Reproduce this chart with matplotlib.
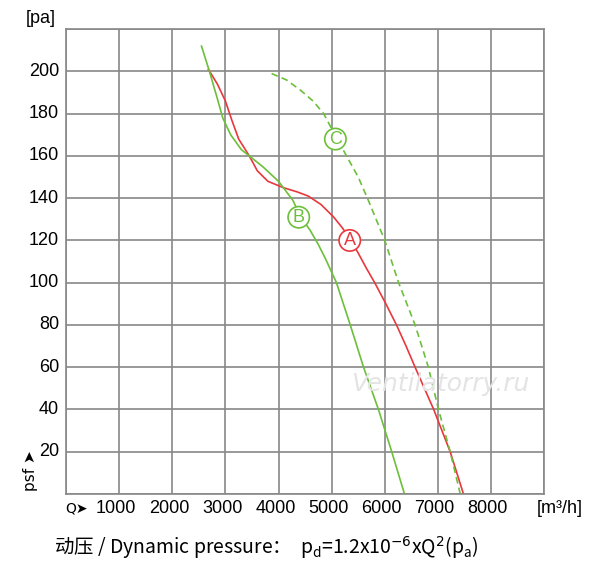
import matplotlib.pyplot as plt

plt.rcParams['font.family'] = ['Liberation Sans', 'Noto Sans CJK SC', 'DejaVu Sans']

# curve A (red)
a_q = [2680, 2850, 3000, 3120, 3250, 3450, 3600, 3800, 4090, 4350, 4560, 4800, 5040, 5200, 5340,
       5500, 5650, 5810, 6020, 6220, 6400, 6570, 6920, 7230, 7480]
a_p = [201, 194, 186, 177, 168, 160, 153, 148, 145, 143, 141, 137, 131, 126, 121,
       114, 107, 100, 90, 80, 70, 60, 40, 20, 0]
# curve B (green)
b_q = [2550, 2700, 2850, 2950, 3100, 3300, 3450, 3700, 4000, 4270, 4420, 4590, 4750, 4890, 5090,
       5350, 5600, 5880, 6130, 6370]
b_p = [212, 200, 187, 178, 170, 163, 160, 155, 148, 139, 131, 125, 118, 111, 100,
       80, 60, 40, 20, 0]
# curve C (green dashed)
c_q = [3870, 4150, 4420, 4650, 4850, 5060, 5280, 5500, 5690, 6000, 6260, 6570, 6820, 7010, 7230, 7420]
c_p = [199, 196, 191, 186, 180, 170, 160, 150, 139, 120, 100, 80, 60, 40, 20, 0]

x_ticks = [1000, 2000, 3000, 4000, 5000, 6000, 7000, 8000]
y_ticks = [20, 40, 60, 80, 100, 120, 140, 160, 180, 200]

red = '#e8383d'
green = '#6cbf3a'

fig = plt.figure(figsize=(6.0, 5.73), dpi=100)
ax = fig.add_axes([0.11, 0.138, 0.797, 0.811])
ax.set_xlim(0, 9000)
ax.set_ylim(0, 220)
ax.set_xticks(range(0, 9001, 1000))
ax.set_yticks(range(0, 221, 20))
ax.grid(True, color='#888888', lw=1.2)
ax.tick_params(length=0, labelbottom=False, labelleft=False)
for s in ax.spines.values():
    s.set_color('#888888')
    s.set_linewidth(1.2)

ax.plot(a_q, a_p, color=red, lw=1.2)
ax.plot(b_q, b_p, color=green, lw=1.2)
ax.plot(c_q, c_p, color=green, lw=1.2, ls=(0, (4, 2.5)))

for txt, q, p, col in [('A', 5340, 120, red), ('B', 4380, 131, green), ('C', 5070, 168, green)]:
    ax.text(q, p, txt, color=col, fontsize=13, ha='center', va='center',
            bbox=dict(boxstyle='circle,pad=0.12', fc='white', ec=col, lw=1.2))

for v in y_ticks:
    ax.text(-130, v, str(v), ha='right', va='center', fontsize=13)
for v in x_ticks:
    ax.text(v - 60, -7, str(v), ha='center', va='center', fontsize=13)
ax.text(-470, 225, '[pa]', ha='center', va='center', fontsize=13)
ax.text(200, -7, 'Q➤', ha='center', va='center', fontsize=10, family=['DejaVu Sans'])
ax.text(9300, -7, '[m³/h]', ha='center', va='center', fontsize=13)
ax.text(-660, 11, 'psf ➤', rotation=90, ha='center', va='center', fontsize=11, family=['DejaVu Sans'])
ax.text(7050, 52, 'Ventilatorry.ru', color='#e4e4e4', fontsize=18, style='italic',
        ha='center', va='center', family=['DejaVu Sans'])

fig.text(0.09, 0.044, '动压 / Dynamic pressure：  $\\mathregular{p_d}$=1.2x10$^{-6}$xQ$^2$($\\mathregular{p_a}$)',
         fontsize=14, va='center', family=['Noto Sans CJK SC', 'DejaVu Sans'])

fig.savefig('out.png')
